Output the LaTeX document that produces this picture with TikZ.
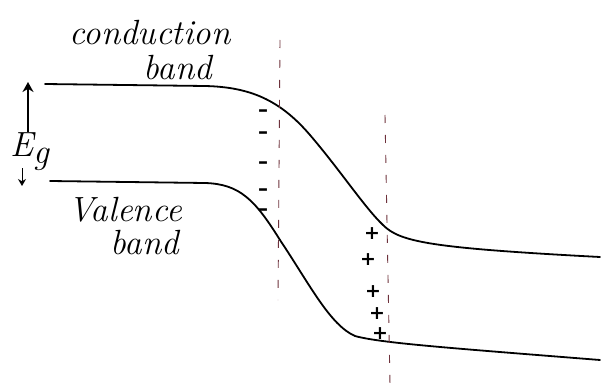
\documentclass[tikz,border=0pt]{standalone}
\usepackage{fontspec}
\newfontfamily\chgfont{DejaVu Sans}
\usetikzlibrary{arrows.meta}
\begin{document}
\begin{tikzpicture}[x=1pt,y=-1pt,
  band/.style={line width=1.8pt,line cap=round},
  guide/.style={line width=0.9pt,draw={rgb,255:red,110;green,50;blue,60},dash pattern=on 8pt off 12pt},
  lbl/.style={font=\itshape\fontsize{35}{38}\selectfont,inner sep=0pt},
  chg/.style={font=\chgfont\bfseries\fontsize{20}{22}\selectfont,inner sep=0pt},
  pls/.style={font=\chgfont\bfseries\fontsize{19}{21}\selectfont,inner sep=0pt}]
\useasboundingbox (0,0) rectangle (610,385);
% conduction band
\draw[band] (45,84) -- (205,86) .. controls (250,87) and (280,100) .. (310,135)
  .. controls (340,170) and (365,208) .. (383,225)
  .. controls (400,242) and (430,248) .. (600,257);
% valence band
\draw[band] (50,181) -- (205,183) .. controls (240,184) and (255,200) .. (280,240)
  .. controls (310,285) and (330,325) .. (355,336)
  .. controls (380,343) and (450,348) .. (600,360);
% depletion boundaries
\coordinate (d1t) at (280,40); \coordinate (d1b) at (278,300);
\coordinate (d2t) at (385,115); \coordinate (d2b) at (390,385);
\draw[guide] (d1t) -- (d1b);
\draw[guide] (d2t) -- (d2b);
% labels
\node[lbl] (cond) at (150,33) {conduction};
\node[lbl] (cband) at (178,68) {band};
\node[lbl] (val) at (125,210) {Valence};
\node[lbl] (vband) at (145,243) {band};
\node[lbl] (eg) at (30,152) {E\raisebox{-7pt}{g}};
\coordinate (up) at (28,82);
\coordinate (dn) at (22,186);
\coordinate (egt) at (28,132);
\coordinate (egb) at (22,168);
\draw[line width=2pt,-{Stealth[length=10pt,width=11pt]}] (egt) -- (up);
\draw[line width=1pt,-{Stealth[length=7pt,width=8pt]}] (egb) -- (dn);
% charges
\foreach \y [count=\i] in {113,135,165,192,212} \node[chg] (m\i) at (263,\y) {–};
\foreach \x/\y [count=\i] in {372/234,368/260,373/292,377/314,380/334} \node[pls] (p\i) at (\x,\y) {+};
\end{tikzpicture}
\end{document}
